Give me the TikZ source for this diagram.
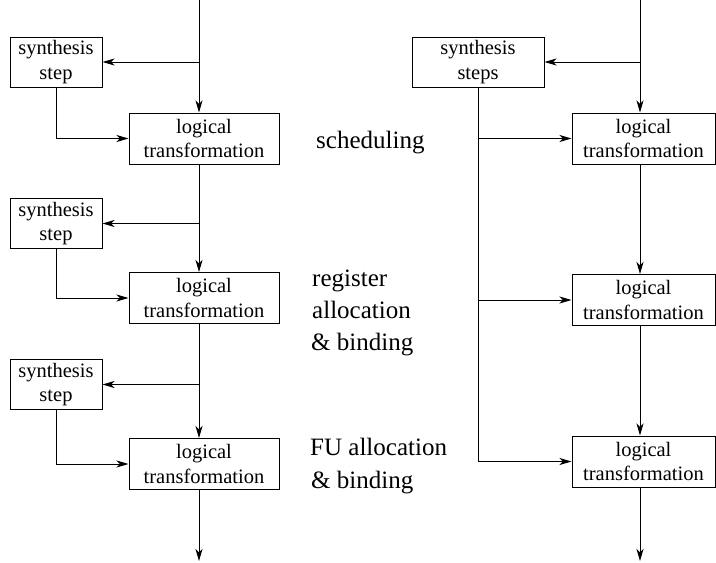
\documentclass[tikz,border=0pt]{standalone}
\usepackage{fontspec}
\setmainfont{Liberation Serif}
\usetikzlibrary{arrows.meta}
\begin{document}
\begin{tikzpicture}[x=1pt,y=-1pt,
  box/.style={draw, line width=1pt, align=center, inner sep=0pt, minimum height=51pt,
    font=\fontsize{20.5}{24.5}\selectfont},
  sbox/.style={box, minimum width=92pt, minimum height=50pt},
  tbox/.style={box, minimum width=150pt},
  rbox/.style={box, minimum width=143pt},
  arr/.style={line width=1pt, -{Stealth[length=12pt,width=7pt,inset=3.5pt]}},
  lab/.style={anchor=base west, inner sep=0pt, font=\fontsize{25}{33}\selectfont}]
\useasboundingbox (0,0) rectangle (716,563);

% ---------- left column ----------
\coordinate (lt) at (199,0);
\coordinate (lend) at (199,561);
\node[sbox] (s1) at (56,62) {synthesis\\step};
\node[tbox] (t1) at (204,138.5) {logical\\transformation};
\node[sbox] (s2) at (56,223.5) {synthesis\\step};
\node[tbox] (t2) at (204,298) {logical\\transformation};
\node[sbox] (s3) at (56,384.5) {synthesis\\step};
\node[tbox] (t3) at (204,464) {logical\\transformation};

\draw[arr] (lt) -- (lt |- t1.north);
\draw[arr] (lt |- s1.east) -- (s1.east);
\draw[arr] (s1.south) |- (t1.west);

\draw[arr] (lt |- t1.south) -- (lt |- t2.north);
\draw[arr] (lt |- s2.east) -- (s2.east);
\draw[arr] (s2.south) |- (t2.west);

\draw[arr] (lt |- t2.south) -- (lt |- t3.north);
\draw[arr] (lt |- s3.east) -- (s3.east);
\draw[arr] (s3.south) |- (t3.west);

\draw[arr] (lt |- t3.south) -- (lend);

% ---------- labels ----------
\node[lab] (l1) at (316,148) {scheduling};
\node[lab] (l2) at (312,286) {register};
\node[lab] (l3) at (312,318) {allocation};
\node[lab] (l4) at (311,350) {\& binding};
\node[lab] (l5) at (310,455) {FU allocation};
\node[lab] (l6) at (311,488) {\& binding};

% ---------- right column ----------
\coordinate (rt) at (640,0);
\coordinate (rend) at (640,561);
\node[sbox, minimum width=132pt] (S) at (478,62) {synthesis\\steps};
\node[rbox] (r1) at (643.5,138.5) {logical\\transformation};
\node[rbox] (r2) at (643.5,300) {logical\\transformation};
\node[rbox] (r3) at (643.5,461.5) {logical\\transformation};

\draw[arr] (rt) -- (rt |- r1.north);
\draw[arr] (rt |- S.east) -- (S.east);
\draw[arr] (rt |- r1.south) -- (rt |- r2.north);
\draw[arr] (rt |- r2.south) -- (rt |- r3.north);
\draw[arr] (rt |- r3.south) -- (rend);

\draw[arr] (S.south) |- (r3.west);
\draw[arr] (S.south |- r1.west) -- (r1.west);
\draw[arr] (S.south |- r2.west) -- (r2.west);
\end{tikzpicture}
\end{document}
